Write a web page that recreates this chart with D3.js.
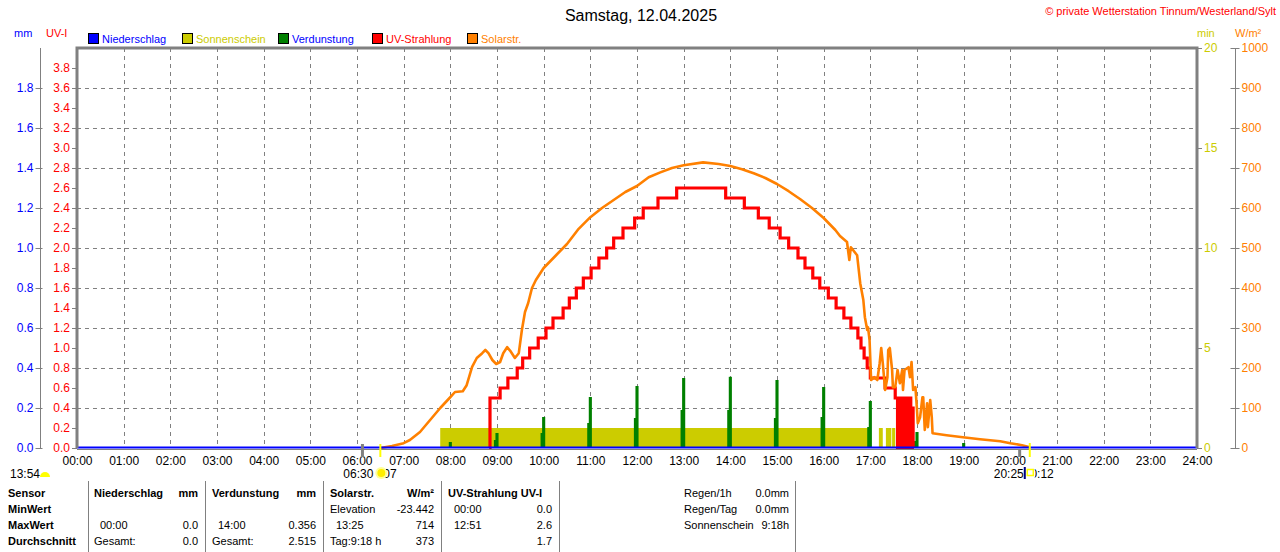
<!DOCTYPE html>
<html lang="de">
  <head>
    <meta charset="UTF-8" />
    <title>Samstag, 12.04.2025</title>
    <script src="https://d3js.org/d3.v7.min.js"></script>
    <style>
      body {
        margin: 0;
        background: #fff;
      }
      svg {
        display: block;
        font-family: "Liberation Sans", Arial, sans-serif;
      }
    </style>
  </head>
  <body>
    <svg width="1280" height="552"></svg>

    <script>
      // ---- data ----
      const hourLabels = ["00:00", "01:00", "02:00", "03:00", "04:00", "05:00", "06:00", "07:00",
        "08:00", "09:00", "10:00", "11:00", "12:00", "13:00", "14:00", "15:00", "16:00",
        "17:00", "18:00", "19:00", "20:00", "21:00", "22:00", "23:00", "24:00"];
      const mmTicks = [0, 0.2, 0.4, 0.6, 0.8, 1.0, 1.2, 1.4, 1.6, 1.8];
      const uvTicks = [0, 0.2, 0.4, 0.6, 0.8, 1.0, 1.2, 1.4, 1.6, 1.8, 2.0, 2.2, 2.4, 2.6,
        2.8, 3.0, 3.2, 3.4, 3.6, 3.8];
      const minTicks = [0, 5, 10, 15, 20];
      const wTicks = [0, 100, 200, 300, 400, 500, 600, 700, 800, 900, 1000];
      const legendNames = ["Niederschlag", "Sonnenschein", "Verdunstung", "UV-Strahlung", "Solarstr."];

      // precipitation (mm), hourly: nothing all day
      const precipValues = [0, 0, 0, 0, 0, 0, 0, 0, 0, 0, 0, 0, 0, 0, 0, 0, 0, 0, 0, 0, 0, 0, 0, 0, 0];

      // sunshine spans (1 min per minute)
      const sunshineSpans = [["07:47", "17:01"], ["17:11", "17:16"], ["17:20", "17:27"], ["17:28", "17:32"]];

      // evaporation (mm) per hour: value just before the hour and at the hour
      const evapHours = ["08:00", "09:00", "10:00", "11:00", "12:00", "13:00", "14:00", "15:00",
        "16:00", "17:00", "18:00", "19:00"];
      const evapPre = [0, 0.04, 0.075, 0.125, 0.15, 0.19, 0.19, 0.15, 0.155, 0.105, 0.035, 0];
      const evapPeak = [0.03, 0.075, 0.155, 0.255, 0.31, 0.35, 0.356, 0.34, 0.305, 0.235, 0.08, 0.025];

      // UV index, value valid from time on
      const uvData = [
        ["08:50", 0], ["08:51", 0.5], ["09:04", 0.6], ["09:14", 0.7], ["09:26", 0.8], ["09:33", 0.9],
        ["09:42", 1.0], ["09:53", 1.1], ["10:03", 1.2], ["10:12", 1.3], ["10:25", 1.4], ["10:33", 1.5],
        ["10:42", 1.6], ["10:51", 1.7], ["11:01", 1.8], ["11:11", 1.9], ["11:21", 2.0], ["11:30", 2.1],
        ["11:42", 2.2], ["11:57", 2.3], ["12:08", 2.4], ["12:27", 2.5], ["12:51", 2.6], ["13:54", 2.5],
        ["14:18", 2.4], ["14:36", 2.3], ["14:50", 2.2], ["15:04", 2.1], ["15:15", 2.0], ["15:27", 1.9],
        ["15:36", 1.8], ["15:46", 1.7], ["15:55", 1.6], ["16:06", 1.5], ["16:16", 1.4], ["16:26", 1.3],
        ["16:35", 1.2], ["16:44", 1.1], ["16:48", 1.0], ["16:52", 0.9], ["16:56", 0.8], ["17:00", 0.7],
        ["17:19", 0.6], ["17:32", 0.5], ["17:35", 0], ["17:37", 0.5], ["17:39", 0.4], ["17:40", 0],
        ["17:42", 0.5], ["17:44", 0], ["17:46", 0.5], ["17:48", 0.4], ["17:49", 0], ["17:51", 0.5],
        ["17:52", 0], ["17:54", 0.4], ["17:55", 0], ["17:56", 0]
      ];

      // solar radiation (W/m2)
      const solarData = [
        ["06:30", 0], ["06:45", 5], ["07:00", 12], ["07:08", 20], ["07:21", 40], ["07:34", 70],
        ["07:47", 100], ["07:59", 125], ["08:06", 140], ["08:16", 142], ["08:21", 157], ["08:28", 203],
        ["08:34", 225], ["08:41", 237], ["08:45", 245], ["08:49", 237], ["08:54", 220], ["08:59", 210],
        ["09:04", 215], ["09:08", 237], ["09:13", 252], ["09:17", 243], ["09:23", 225], ["09:28", 237],
        ["09:32", 295], ["09:36", 340], ["09:40", 362], ["09:45", 400], ["09:50", 420], ["10:00", 450],
        ["10:15", 480], ["10:30", 510], ["10:45", 548], ["11:00", 577], ["11:15", 600], ["11:30", 620],
        ["11:45", 640], ["12:00", 655], ["12:15", 677], ["12:30", 689], ["12:45", 700], ["13:00", 707],
        ["13:25", 714], ["13:45", 710], ["14:00", 705], ["14:15", 697], ["14:30", 687], ["14:45", 675],
        ["15:00", 660], ["15:15", 642], ["15:30", 622], ["15:45", 600], ["16:00", 575], ["16:15", 545],
        ["16:21", 530], ["16:30", 515], ["16:33", 470], ["16:35", 502], ["16:43", 482], ["16:47", 412],
        ["16:51", 370], ["16:53", 327], ["16:56", 295], ["16:57", 302], ["16:59", 270], ["17:01", 170],
        ["17:05", 177], ["17:09", 170], ["17:12", 212], ["17:14", 250], ["17:16", 212], ["17:19", 145],
        ["17:22", 177], ["17:23", 245], ["17:25", 250], ["17:28", 195], ["17:29", 152], ["17:32", 152],
        ["17:35", 195], ["17:38", 162], ["17:41", 195], ["17:42", 145], ["17:44", 195], ["17:49", 202],
        ["17:51", 177], ["17:53", 215], ["17:55", 145], ["17:58", 152], ["18:00", 95], ["18:01", 62],
        ["18:04", 77], ["18:07", 127], ["18:08", 127], ["18:10", 45], ["18:13", 112], ["18:14", 52],
        ["18:17", 120], ["18:19", 77], ["18:20", 37], ["18:38", 32], ["18:59", 27], ["19:21", 22],
        ["19:47", 17], ["20:00", 12], ["20:15", 7], ["20:25", 2]
      ];

      // sun / moon times
      const sunRise = "06:30", sunSet = "20:25", moonA = "06:07", moonB = "20:12", dayLength = "13:54";

      // summary table
      const tableHead = ["Sensor", "Niederschlag", "mm", "Verdunstung", "mm", "Solarstr.", "W/m²", "UV-Strahlung UV-I"];
      const tableRows = ["MinWert", "MaxWert", "Durchschnitt"];
      const precipStats = [["", ""], ["00:00", "0.0"], ["Gesamt:", "0.0"]];
      const evapStats = [["", ""], ["14:00", "0.356"], ["Gesamt:", "2.515"]];
      const solarStats = [["Elevation", "-23.442"], ["13:25", "714"], ["Tag:9:18 h", "373"]];
      const uvStats = [["00:00", "0.0"], ["12:51", "2.6"], ["", "1.7"]];
      const extraLabels = ["Regen/1h", "Regen/Tag", "Sonnenschein"];
      const extraValues = ["0.0mm", "0.0mm", "9:18h"];

      // ---- drawing ----
      const svg = d3.select("svg");
      const FONT = '"Liberation Sans", Arial, sans-serif';
      const GRAY = "#808080";
      const BLUE = "#0000ff", RED = "#ff0000", OLIVE = "#cccc00", GREEN = "#008000", ORANGE = "#ff8000";
      const L = 77, R = 1197, T = 48, B = 448;

      const toMin = (s) => {
        const p = s.split(":");
        return +p[0] * 60 + +p[1];
      };

      const x = d3.scaleLinear().domain([0, 1440]).range([L, R]);
      const yUV = d3.scaleLinear().domain([0, 4]).range([B, T]);
      const yMM = d3.scaleLinear().domain([0, 2]).range([B, T]);
      const yMin = d3.scaleLinear().domain([0, 20]).range([B, T]);
      const yW = d3.scaleLinear().domain([0, 1000]).range([B, T]);

      // title + copyright
      svg.append("text").attr("x", 641).attr("y", 21).attr("text-anchor", "middle")
        .attr("font-size", 16).text("Samstag, 12.04.2025");
      svg.append("text").attr("x", 1276).attr("y", 15).attr("text-anchor", "end")
        .attr("font-size", 11).attr("fill", RED).text("© private Wetterstation Tinnum/Westerland/Sylt");

      // unit labels
      svg.append("text").attr("x", 14).attr("y", 37).attr("font-size", 11).attr("fill", BLUE).text("mm");
      svg.append("text").attr("x", 46).attr("y", 37).attr("font-size", 11).attr("fill", RED).text("UV-I");
      svg.append("text").attr("x", 1197).attr("y", 37).attr("font-size", 11).attr("fill", OLIVE).text("min");
      svg.append("text").attr("x", 1235).attr("y", 37).attr("font-size", 11).attr("fill", ORANGE).text("W/m²");

      // legend
      const legendX = [88, 182, 278, 372, 467];
      const legendBox = [BLUE, OLIVE, GREEN, RED, ORANGE];
      const legendText = [BLUE, OLIVE, BLUE, RED, ORANGE];
      const lg = svg.append("g").selectAll("g").data(legendNames).join("g")
        .attr("transform", (d, i) => `translate(${legendX[i]},33)`);
      lg.append("rect").attr("x", 0.5).attr("y", 0.5).attr("width", 10).attr("height", 10)
        .attr("fill", (d, i) => legendBox[i]).attr("stroke", "#000");
      lg.append("text").attr("x", 14).attr("y", 10).attr("font-size", 11)
        .attr("fill", (d, i) => legendText[i]).text((d) => d);

      // grid
      const grid = svg.append("g").attr("stroke", GRAY).attr("stroke-dasharray", "4,4");
      grid.selectAll("line.h").data(wTicks.slice(1, -1)).join("line").attr("class", "h")
        .attr("x1", L).attr("x2", R).attr("y1", (d) => yW(d) + 0.5).attr("y2", (d) => yW(d) + 0.5);
      grid.selectAll("line.v").data(hourLabels.slice(1, -1)).join("line").attr("class", "v")
        .attr("x1", (d) => Math.round(x(toMin(d))) + 0.5).attr("x2", (d) => Math.round(x(toMin(d))) + 0.5)
        .attr("y1", T).attr("y2", B);

      // sunshine
      svg.append("g").selectAll("rect").data(sunshineSpans).join("rect")
        .attr("x", (d) => x(toMin(d[0])))
        .attr("width", (d) => x(toMin(d[1])) - x(toMin(d[0])))
        .attr("y", yMin(1)).attr("height", B - yMin(1))
        .attr("fill", OLIVE);

      // evaporation bars
      const evap = svg.append("g").attr("fill", GREEN);
      evap.selectAll("rect.pre").data(evapHours).join("rect").attr("class", "pre")
        .attr("x", (d) => x(toMin(d) - 4)).attr("width", x(4) - x(0))
        .attr("y", (d, i) => yMM(evapPre[i])).attr("height", (d, i) => B - yMM(evapPre[i]));
      evap.selectAll("rect.peak").data(evapHours).join("rect").attr("class", "peak")
        .attr("x", (d) => x(toMin(d) - 2)).attr("width", x(4) - x(0))
        .attr("y", (d, i) => yMM(evapPeak[i])).attr("height", (d, i) => B - yMM(evapPeak[i]));

      // UV line
      svg.append("path").datum(uvData)
        .attr("d", d3.line().curve(d3.curveStepAfter)
          .x((d) => x(toMin(d[0]))).y((d) => yUV(d[1])))
        .attr("fill", "none").attr("stroke", RED).attr("stroke-width", 3.2);

      // solar line
      svg.append("path").datum(solarData)
        .attr("d", d3.line().x((d) => x(toMin(d[0]))).y((d) => yW(d[1])))
        .attr("fill", "none").attr("stroke", ORANGE).attr("stroke-width", 2.6)
        .attr("stroke-linejoin", "round");

      // precipitation line at the bottom
      svg.append("line").attr("x1", L).attr("x2", R).attr("y1", B + 1.5).attr("y2", B + 1.5)
        .attr("stroke", GRAY);
      svg.append("path").datum(precipValues)
        .attr("d", d3.line().x((d, i) => x(i * 60)).y((d) => yMM(d) - 0.5))
        .attr("fill", "none").attr("stroke", BLUE).attr("stroke-width", 2);

      // frame
      svg.append("path").attr("d", `M${L},${B}V${T}H${R}V${B}`)
        .attr("fill", "none").attr("stroke", GRAY).attr("stroke-width", 3);

      // axes
      function styleAxis(g, color) {
        g.attr("font-family", FONT).attr("font-size", 12);
        g.selectAll("line").attr("stroke", GRAY);
        g.selectAll(".domain").remove();
        g.selectAll("text").attr("fill", color);
      }

      svg.append("line").attr("x1", 40.5).attr("x2", 40.5).attr("y1", T).attr("y2", B).attr("stroke", GRAY);
      svg.append("g").attr("transform", "translate(40.5,0)")
        .call(d3.axisLeft(yMM).tickValues(mmTicks).tickFormat(d3.format(".1f")).tickSize(5).tickPadding(2))
        .call((g) => styleAxis(g, BLUE))
        .call((g) => g.selectAll(".tick line").attr("x2", 2).attr("x1", -5));
      svg.append("g").attr("transform", `translate(${L},0)`)
        .call(d3.axisLeft(yUV).tickValues(uvTicks).tickFormat(d3.format(".1f")).tickSize(5).tickPadding(2))
        .call((g) => styleAxis(g, RED));
      svg.append("g").attr("transform", `translate(${R},0)`)
        .call(d3.axisRight(yMin).tickValues(minTicks).tickFormat(d3.format("d")).tickSize(5).tickPadding(2))
        .call((g) => styleAxis(g, OLIVE));
      svg.append("line").attr("x1", 1235.5).attr("x2", 1235.5).attr("y1", T).attr("y2", B).attr("stroke", GRAY);
      svg.append("g").attr("transform", "translate(1235.5,0)")
        .call(d3.axisRight(yW).tickValues(wTicks).tickFormat(d3.format("d")).tickSize(4).tickPadding(2))
        .call((g) => styleAxis(g, ORANGE))
        .call((g) => g.selectAll(".tick line").attr("x1", -5));
      svg.append("g").attr("transform", `translate(0,${B})`)
        .call(d3.axisBottom(x).tickValues(hourLabels.map(toMin)).tickFormat((d, i) => hourLabels[i]).tickSize(0).tickPadding(8))
        .call((g) => styleAxis(g, "#000"));

      // sun / moon markers
      const mk = svg.append("g");
      mk.append("line").attr("x1", x(toMin(moonA))).attr("x2", x(toMin(moonA))).attr("y1", 444).attr("y2", 457)
        .attr("stroke", GRAY).attr("stroke-width", 3);
      mk.append("line").attr("x1", x(toMin(moonB))).attr("x2", x(toMin(moonB))).attr("y1", 449).attr("y2", 457)
        .attr("stroke", GRAY).attr("stroke-width", 3);
      mk.append("line").attr("x1", x(toMin(sunRise))).attr("x2", x(toMin(sunRise))).attr("y1", 444).attr("y2", 457)
        .attr("stroke", "#ffff00").attr("stroke-width", 2);
      mk.append("line").attr("x1", x(toMin(sunSet))).attr("x2", x(toMin(sunSet))).attr("y1", 443).attr("y2", 457)
        .attr("stroke", "#ffff00").attr("stroke-width", 2);

      const small = (xx, yy, t, anchor) =>
        mk.append("text").attr("x", xx).attr("y", yy).attr("font-size", 12)
          .attr("text-anchor", anchor || "start").text(t);

      small(x(toMin(sunRise)) - 7, 478, sunRise, "end");
      small(x(toMin(sunRise)) + 3, 478, moonA.slice(3));
      mk.append("circle").attr("cx", x(toMin(sunRise)) + 1).attr("cy", 473).attr("r", 6).attr("fill", "#ffff99");
      mk.append("circle").attr("cx", x(toMin(sunRise)) + 1).attr("cy", 473).attr("r", 4).attr("fill", "#ffee00");

      small(x(toMin(sunSet)) - 6, 478, sunSet, "end");
      small(x(toMin(sunSet)) + 24, 478, moonB, "end");
      mk.append("rect").attr("x", x(toMin(sunSet)) - 6).attr("y", 466).attr("width", 11).attr("height", 13).attr("fill", "#fff");
      mk.append("rect").attr("x", x(toMin(sunSet)) - 6).attr("y", 467).attr("width", 2).attr("height", 12).attr("fill", "#000080");
      mk.append("rect").attr("x", x(toMin(sunSet)) - 2.5).attr("y", 469.5).attr("width", 6).attr("height", 6)
        .attr("fill", "none").attr("stroke", "#ffff00").attr("stroke-width", 1.5);

      small(10, 478, dayLength);
      mk.append("path").attr("d", d3.arc()({ innerRadius: 0, outerRadius: 5, startAngle: -Math.PI / 2, endAngle: Math.PI / 2 }))
        .attr("transform", "translate(45,477)").attr("fill", "#ffff00");

      // summary table
      const tb = svg.append("g").attr("font-size", 11);
      const rowY = [497, 513, 529, 545];
      [88.5, 205.5, 323.5, 441.5, 559.5, 795.5].forEach((sx) =>
        tb.append("line").attr("x1", sx).attr("x2", sx).attr("y1", 481).attr("y2", 552).attr("stroke", GRAY));

      const headX = [8, 94, 198, 212, 316, 330, 434, 448];
      const headAnchor = ["start", "start", "end", "start", "end", "start", "end", "start"];
      tableHead.forEach((h, i) =>
        tb.append("text").attr("x", headX[i]).attr("y", rowY[0]).attr("font-weight", "bold")
          .attr("text-anchor", headAnchor[i]).text(h));
      tableRows.forEach((r, i) =>
        tb.append("text").attr("x", 8).attr("y", rowY[i + 1]).attr("font-weight", "bold").text(r));

      function statCol(stats, lx, rx) {
        stats.forEach((s, i) => {
          tb.append("text").attr("x", s[0].indexOf(":") === 2 ? lx + 6 : lx).attr("y", rowY[i + 1]).text(s[0]);
          tb.append("text").attr("x", rx).attr("y", rowY[i + 1]).attr("text-anchor", "end").text(s[1]);
        });
      }
      statCol(precipStats, 94, 198);
      statCol(evapStats, 212, 316);
      statCol(solarStats, 330, 434);
      statCol(uvStats, 448, 552);

      extraLabels.forEach((t, i) => {
        tb.append("text").attr("x", 684).attr("y", rowY[i]).text(t);
        tb.append("text").attr("x", 789).attr("y", rowY[i]).attr("text-anchor", "end").text(extraValues[i]);
      });
    </script>
  </body>
</html>
